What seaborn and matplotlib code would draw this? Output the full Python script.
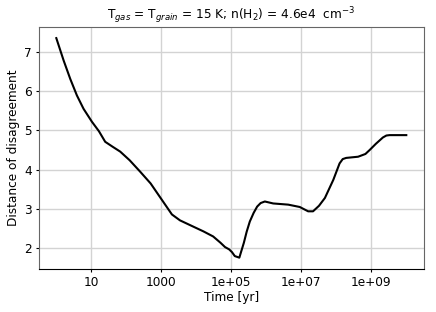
import numpy as np
import pandas as pd
import matplotlib
matplotlib.use("Agg")
import matplotlib.pyplot as plt
import seaborn as sns
from matplotlib.ticker import FixedLocator, NullLocator

# log10(time [yr]) and distance of disagreement
log_time = [0.0, 0.21, 0.40, 0.59, 0.78, 1.02, 1.22, 1.40, 1.62, 1.83, 2.10,
            2.40, 2.70, 2.97, 3.31, 3.54, 3.85, 4.21, 4.49, 4.70, 4.83, 4.95,
            5.03, 5.11, 5.24, 5.37, 5.45, 5.54, 5.65, 5.75, 5.85, 5.97, 6.21,
            6.64, 6.97, 7.21, 7.35, 7.52, 7.69, 7.93, 8.11, 8.20, 8.30, 8.64,
            8.85, 8.97, 9.15, 9.35, 9.45, 9.54, 10.02]
distance = [7.35, 6.78, 6.31, 5.89, 5.55, 5.22, 4.98, 4.71, 4.58, 4.46, 4.24,
            3.95, 3.65, 3.30, 2.86, 2.71, 2.58, 2.43, 2.30, 2.14, 2.03, 1.97,
            1.90, 1.80, 1.76, 2.14, 2.42, 2.68, 2.90, 3.06, 3.15, 3.19, 3.14,
            3.11, 3.05, 2.94, 2.94, 3.08, 3.28, 3.74, 4.16, 4.27, 4.30, 4.33,
            4.40, 4.50, 4.66, 4.82, 4.87, 4.88, 4.88]

tick_values = [1e1, 1e3, 1e5, 1e7, 1e9]
tick_labels = ["10", "1000", "1e+05", "1e+07", "1e+09"]

df = pd.DataFrame({"time": 10 ** np.array(log_time), "distance": distance})

fs = 8.7
fig = plt.figure(figsize=(4.36, 3.12), dpi=100)
ax = fig.add_axes([0.089, 0.139, 0.883, 0.774])
sns.lineplot(data=df, x="time", y="distance", color="black", linewidth=1.5, ax=ax)

ax.set_xscale("log")
ax.xaxis.set_major_locator(FixedLocator(tick_values))
ax.set_xticklabels(tick_labels)
ax.xaxis.set_minor_locator(NullLocator())
ax.grid(True, color="#d3d3d3", linewidth=1)
ax.set_axisbelow(True)
for side in ["left", "top", "right"]:
    ax.spines[side].set_color("#666666")
ax.spines["bottom"].set_color("black")

ax.set_xlabel("Time [yr]", fontsize=fs, labelpad=2)
ax.set_ylabel("Distance of disagreement", fontsize=fs, labelpad=3)
ax.tick_params(labelsize=fs, length=2.5, width=0.8, pad=2.5)
ax.set_title(r"T$_{gas}$ = T$_{grain}$ = 15 K; n(H$_2$) = 4.6e4  cm$^{-3}$", fontsize=fs)

plt.savefig("out.png", dpi=100)
